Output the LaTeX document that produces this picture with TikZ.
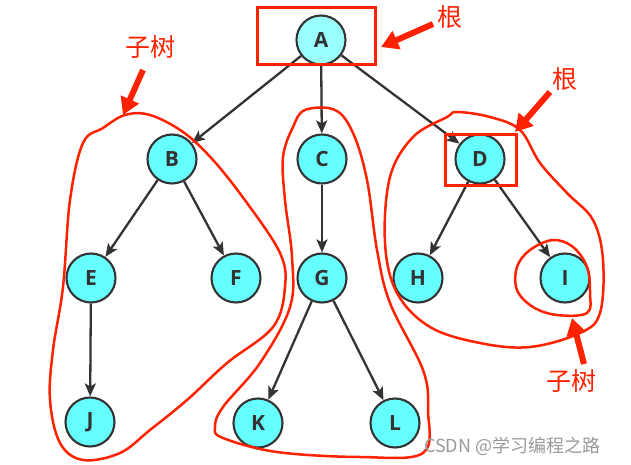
\documentclass[tikz,border=0pt]{standalone}
\usepackage{fontspec}
\setmainfont{Open Sans}
\newfontfamily\cjk{Noto Sans CJK SC}
\usetikzlibrary{arrows.meta}
\definecolor{nodefill}{HTML}{66FFFF}
\definecolor{rootfill}{HTML}{99FFFF}
\definecolor{edgecol}{HTML}{333333}
\definecolor{mark}{HTML}{FF2200}
\tikzset{
  tnode/.style={circle,draw=edgecol,line width=2.1pt,fill=nodefill,minimum size=49pt,inner sep=0pt,font=\fontsize{21}{21}\selectfont\bfseries,text=edgecol},
  edge/.style={draw=edgecol,line width=2.3pt,-{Stealth[length=13pt,width=11pt,inset=3pt]}},
  blob/.style={draw=mark,line width=2.5pt},
  rbox/.style={draw=mark,line width=3pt},
  rarrow/.style={draw=mark,line width=6pt,-{Triangle[length=17pt,width=19pt]}},
  rlabel/.style={text=mark,font=\cjk\fontsize{25}{25}\selectfont,inner sep=0pt}
}
\begin{document}
\begin{tikzpicture}[x=1pt,y=-1pt]
\useasboundingbox (0,0) rectangle (631,465);
% nodes
\node[tnode,fill=rootfill] (A) at (321,40) {A};
\node[tnode] (B) at (172,159) {B};
\node[tnode] (C) at (322,159) {C};
\node[tnode] (D) at (480,159) {D};
\node[tnode] (E) at (91,278) {E};
\node[tnode] (F) at (236,278) {F};
\node[tnode] (G) at (322,278) {G};
\node[tnode] (H) at (418,278) {H};
\node[tnode] (I) at (565,278) {I};
\node[tnode] (J) at (90,422) {J};
\node[tnode] (K) at (258,423) {K};
\node[tnode] (L) at (395,423) {L};
% edges
\draw[edge] (A) -- (B);
\draw[edge] (A) -- (C);
\draw[edge] (A) -- (D);
\draw[edge] (B) -- (E);
\draw[edge] (B) -- (F);
\draw[edge] (C) -- (G);
\draw[edge] (D) -- (H);
\draw[edge] (D) -- (I);
\draw[edge] (E) -- (J);
\draw[edge] (G) -- (K);
\draw[edge] (G) -- (L);
% root boxes
\draw[rbox] (257,8) rectangle (375,65);
\draw[rbox] (445,135) rectangle (516,185);
% blobs
\draw[blob] plot[smooth cycle,tension=0.6] coordinates {(125,115) (150,115) (183,132) (213,160) (247,203) (280,253) (285,287) (273,327) (227,363) (187,400) (150,430) (120,453) (83,460) (60,443) (50,400) (53,350) (63,287) (70,200) (83,143) (103,128)};
\draw[blob] plot[smooth cycle,tension=0.6] coordinates {(305,110) (335,110) (353,133) (367,180) (377,250) (390,303) (423,370) (428,410) (423,453) (360,457) (277,452) (223,438) (215,427) (223,407) (260,363) (290,307) (292,257) (285,200) (283,157) (293,127)};
\draw[blob] plot[smooth cycle,tension=0.6] coordinates {(457,112) (490,117) (520,130) (540,163) (567,193) (593,220) (603,260) (600,313) (580,333) (530,347) (480,343) (430,327) (397,293) (385,243) (390,177) (413,137) (447,117)};
\draw[blob] plot[smooth cycle,tension=0.6] coordinates {(553,240) (573,247) (587,267) (590,293) (587,313) (557,315) (533,307) (517,290) (517,267) (530,250)};
% labels and red arrows
\node[rlabel] (r1) at (450,17) {根};
\coordinate (r1t) at (433,24);
\coordinate (r1h) at (381,47);
\draw[rarrow] (r1t) -- (r1h);
\node[rlabel] (r2) at (565,79) {根};
\coordinate (r2t) at (550,92);
\coordinate (r2h) at (515,132);
\draw[rarrow] (r2t) -- (r2h);
\node[rlabel] (s1) at (150,47) {子树};
\coordinate (s1t) at (143,70);
\coordinate (s1h) at (123,115);
\draw[rarrow] (s1t) -- (s1h);
\node[rlabel] (s2) at (571,381) {子树};
\coordinate (s2t) at (584,364);
\coordinate (s2h) at (572,318);
\draw[rarrow] (s2t) -- (s2h);
% watermark
\node[text=black!40,font=\cjk\fontsize{18}{18}\selectfont,anchor=west,inner sep=0pt] (wm) at (424,446) {CSDN @学习编程之路};
\end{tikzpicture}
\end{document}
